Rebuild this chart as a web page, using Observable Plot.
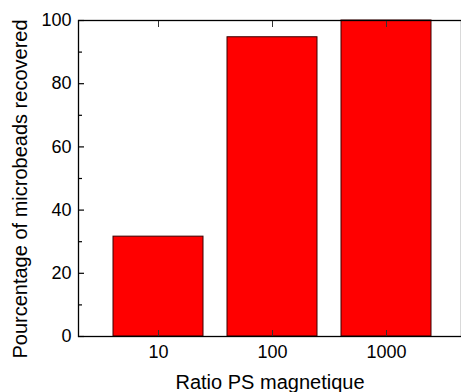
<!DOCTYPE html>
<html>
<head>
<meta charset="utf-8">
<script src="https://cdn.jsdelivr.net/npm/d3@7"></script>
<script src="https://cdn.jsdelivr.net/npm/@observablehq/plot@0.6"></script>
<style>
  html, body { margin: 0; padding: 0; background: #fff; }
</style>
</head>
<body>
<div id="chart"></div>
<script>
const categories = ["10", "100", "1000"];
const values = [31.6, 94.7, 100];
const yMajorTicks = [0, 20, 40, 60, 80, 100];
const yMinorTicks = [10, 30, 50, 70, 90];
const xLabel = "Ratio PS magnetique";
const yLabel = "Pourcentage of microbeads recovered";

const data = categories.map((c, i) => ({ratio: c, pct: values[i]}));
const font = "'Liberation Sans', Arial, sans-serif";

const chart = Plot.plot({
  width: 461,
  height: 392,
  marginLeft: 78,
  marginTop: 20,
  marginBottom: 56,
  marginRight: 0,
  style: {fontFamily: font, fontSize: "18px", background: "#fff", color: "#000", overflow: "hidden"},
  x: {domain: categories, range: [78, 467], paddingInner: 0.21, paddingOuter: 0.3, label: null},
  y: {domain: [0, 100], label: null},
  marks: [
    Plot.barY(data, {x: "ratio", y: "pct", fill: "#ff0000", stroke: "#3a0000", strokeWidth: 1}),
    Plot.frame({stroke: "#000", strokeWidth: 1.3}),
    Plot.axisY(yMajorTicks, {anchor: "left", tickSize: -6, tickPadding: 13, fontSize: 18, label: null, stroke: "#000", strokeWidth: 1.2}),
    Plot.axisY(yMinorTicks, {anchor: "left", tickSize: -4, text: null, label: null, stroke: "#000", strokeWidth: 1.2}),
    Plot.axisX({anchor: "bottom", tickSize: -6, tickPadding: 15, fontSize: 18, label: null, stroke: "#333", strokeWidth: 1}),
    Plot.axisX({anchor: "top", tickSize: -6, text: null, label: null, stroke: "#333", strokeWidth: 1}),
    Plot.text([xLabel], {frameAnchor: "bottom", dy: 46, lineAnchor: "middle", textAnchor: "middle", fontSize: 20, fill: "#000"}),
    Plot.text([yLabel], {frameAnchor: "left", dx: -58, dy: 10.5, rotate: -90, lineAnchor: "middle", textAnchor: "middle", fontSize: 20, fill: "#000"})
  ]
});
document.getElementById("chart").appendChild(chart);
</script>
</body>
</html>
